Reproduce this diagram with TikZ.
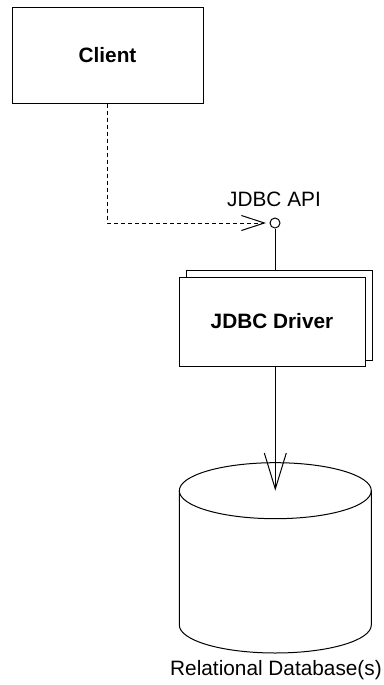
\documentclass[tikz,border=0pt]{standalone}
\usepackage{fontspec}
\setmainfont{Liberation Sans}
\usetikzlibrary{arrows.meta}
\tikzset{
  line/.style={draw=black, line width=1pt},
  boxnode/.style={line, fill=white, rectangle, inner sep=0pt, font=\fontsize{20.8}{24}\selectfont\bfseries},
  lbl/.style={font=\fontsize{20.8}{24}\selectfont, inner sep=0pt},
  dashline/.style={line, dash pattern=on 4pt off 3pt},
}
\begin{document}
\begin{tikzpicture}[x=1pt,y=-1pt]
\useasboundingbox (0,0) rectangle (383,685);
% Client
\node[boxnode, minimum width=191pt, minimum height=95pt] (client) at (107.5,55.5) {Client};
% interface
\node[line, circle, fill=white, minimum size=10pt, inner sep=0pt] (api) at (275,223) {};
\node[lbl] (apilbl) at (274,199) {JDBC API};
% driver
\node[line, rectangle, fill=white, minimum width=186pt, minimum height=90pt, inner sep=0pt] (driverback) at (279,315) {};
\node[boxnode, minimum width=186pt, minimum height=89pt] (driver) at (272,321.5) {JDBC Driver};
% cylinder
\coordinate (dbtop) at (275.3,490.7);
\coordinate (dbbot) at (275.3,625);
\draw[line] (179.3,490.7) -- (179.3,625) arc[start angle=180, end angle=0, x radius=96, y radius=28] -- (371.3,490.7);
\draw[line] (dbtop) ellipse[x radius=96, y radius=28];
\node[lbl] (dblbl) at (276,670) {Relational Database(s)};
% connectors
\coordinate (tip1) at (266,223);
\draw[dashline, -{Straight Barb[length=23pt, width=15pt, line width=1pt]}] (client.south) |- (tip1);
\draw[line] (api.south) -- (api.south |- driverback.north);
\draw[line, -{Straight Barb[length=36pt, width=22pt, line width=1pt]}] (driver.south -| dbtop) -- (dbtop);
\end{tikzpicture}
\end{document}
